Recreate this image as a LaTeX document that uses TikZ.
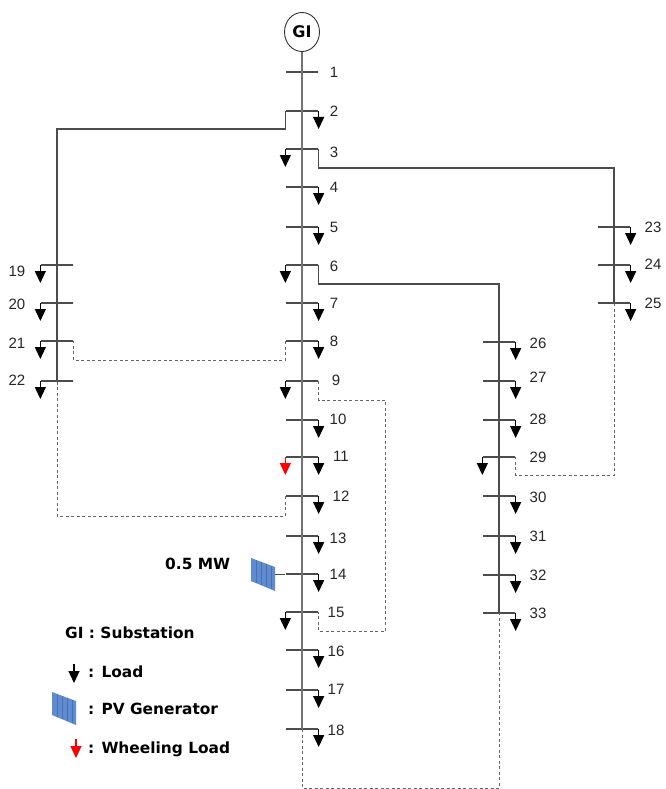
\documentclass[tikz,border=0pt]{standalone}
\usepackage{xcolor}
\usepackage{fontspec}
\usepackage{tikz}
\usetikzlibrary{shapes.geometric}
\usetikzlibrary{arrows.meta}
\setmainfont{Liberation Sans}
\newfontfamily\legendfont{DejaVu Sans}
\definecolor{panelblue}{HTML}{5F8BD0}
\definecolor{panelgrid}{HTML}{4C6FB0}

\begin{document}
\begin{tikzpicture}[x=1pt,y=1pt,node distance=38pt,
	bus node/.style={rectangle, draw=black!70, line width=1.3pt, inner sep=0pt, minimum width=32pt, minimum height=0pt},
	bus label/.style={font=\fontsize{15}{15}\selectfont, text=black!85, inner sep=0pt},
	legend text/.style={font=\legendfont\fontsize{15.4}{15.4}\selectfont\bfseries, inner sep=0pt, anchor=west},
	feeder/.style={draw=black!70, line width=1.3pt},
	trunk/.style={draw=black!55, line width=1.8pt},
	tie line/.style={draw=black!60, line width=0.9pt, dash pattern=on 3pt off 2.5pt},
	load/.style={draw=black, line width=1.3pt, -{Triangle[width=11pt,length=12pt]}},
	wheeling/.style={draw=red, line width=1.3pt, -{Triangle[width=11pt,length=12pt]}},
	pv panel/.pic={
		\fill[panelblue] (0,0) -- (24,-9) -- (24,-33) -- (0,-23) -- cycle;
		\draw[panelgrid, line width=0.5pt] (5,-1.9) -- (5,-25) (10,-3.8) -- (10,-27.2) (15,-5.6) -- (15,-29.2) (20,-7.5) -- (20,-31.3);
	}]
	\useasboundingbox (0,0) rectangle (665,-789);

	% Nodes
	\node [ellipse, draw=black!80, line width=0.9pt, minimum width=35pt, minimum height=39pt, inner sep=0pt, font=\legendfont\fontsize{16}{16}\selectfont\bfseries] (GI) at (302,-32) {GI};
	\node[bus node] (1) at (302,-72) {};
	\node[bus node] (2) [below of=1, yshift=-1pt] {};
	\node[bus node] (3) [below of=2] {};
	\node[bus node] (4) [below of=3] {};
	\node[bus node] (5) [below of=4, yshift=-2pt] {};
	\node[bus node] (6) [below of=5] {};
	\node[bus node] (7) [below of=6] {};
	\node[bus node] (8) [below of=7] {};
	\node[bus node] (9) [below of=8, yshift=-2pt] {};
	\node[bus node] (10) [below of=9, yshift=-1pt] {};
	\node[bus node] (11) [below of=10, yshift=1pt] {};
	\node[bus node] (12) [below of=11, yshift=-1pt] {};
	\node[bus node] (13) [below of=12, yshift=-2pt] {};
	\node[bus node] (14) [below of=13] {};
	\node[bus node] (15) [below of=14] {};
	\node[bus node] (16) [below of=15] {};
	\node[bus node] (17) [below of=16, yshift=-2pt] {};
	\node[bus node] (18) [below of=17, yshift=-1pt] {};

	\node[bus node] (19) at (57,-265) {};
	\node[bus node] (20) [below of=19] {};
	\node[bus node] (21) [below of=20] {};
	\node[bus node] (22) [below of=21, yshift=-2pt] {};

	\node[bus node] (23) at (614,-227) {};
	\node[bus node] (24) [below of=23] {};
	\node[bus node] (25) [below of=24] {};

	\node[bus node] (26) at (499,-342) {};
	\node[bus node] (27) [below of=26, yshift=-1pt] {};
	\node[bus node] (28) [below of=27, yshift=-1pt] {};
	\node[bus node] (29) [below of=28, yshift=1pt] {};
	\node[bus node] (30) [below of=29, yshift=-1pt] {};
	\node[bus node] (31) [below of=30, yshift=-2pt] {};
	\node[bus node] (32) [below of=31, yshift=-1pt] {};
	\node[bus node] (33) [below of=32] {};

	% Bus numbers
	\node[bus label] (n1) at (334,-72) {1};
	\node[bus label] (n2) at (334,-111) {2};
	\node[bus label] (n3) at (334,-152) {3};
	\node[bus label] (n4) at (334,-187) {4};
	\node[bus label] (n5) at (334,-227) {5};
	\node[bus label] (n6) at (334,-266) {6};
	\node[bus label] (n7) at (334,-303) {7};
	\node[bus label] (n8) at (334,-341) {8};
	\node[bus label] (n9) at (336,-380) {9};
	\node[bus label] (n10) at (338,-419) {10};
	\node[bus label] (n11) at (341,-456) {11};
	\node[bus label] (n12) at (341,-496) {12};
	\node[bus label] (n13) at (338,-538) {13};
	\node[bus label] (n14) at (338,-574) {14};
	\node[bus label] (n15) at (336,-612) {15};
	\node[bus label] (n16) at (336,-651) {16};
	\node[bus label] (n17) at (336,-689) {17};
	\node[bus label] (n18) at (336,-730) {18};
	\node[bus label] (n19) at (17,-271) {19};
	\node[bus label] (n20) at (17,-304) {20};
	\node[bus label] (n21) at (17,-343) {21};
	\node[bus label] (n22) at (17,-380) {22};
	\node[bus label] (n23) at (653,-227) {23};
	\node[bus label] (n24) at (653,-264) {24};
	\node[bus label] (n25) at (653,-303) {25};
	\node[bus label] (n26) at (538,-343) {26};
	\node[bus label] (n27) at (538,-377) {27};
	\node[bus label] (n28) at (538,-419) {28};
	\node[bus label] (n29) at (538,-457) {29};
	\node[bus label] (n30) at (538,-497) {30};
	\node[bus label] (n31) at (538,-536) {31};
	\node[bus label] (n32) at (538,-575) {32};
	\node[bus label] (n33) at (538,-613) {33};

	% Feeders
	\draw[trunk] (GI) -- (18.center);
	\draw[feeder] (19.center) -- (22.center);
	\draw[feeder] (23.center) -- (25.center);
	\draw[feeder] (26.center) -- (33.center);
	\draw[feeder] (2.west) -- ++(0,-18) -| (19.center);
	\draw[feeder] (3.east) -- ++(0,-19) -| (23.center);
	\draw[feeder] (6.east) -- ++(0,-19) -| (26.center);

	% Ties
	\draw[tie line] (8.west) -- ++(0,-19) -| (21.east);
	\draw[tie line] (9.east) -- ++(0,-19) -- ++(67,0) |- ([yshift=-19pt]15.east) -- (15.east);
	\draw[tie line] (12.west) -- ++(0,-20) -| (22.center);
	\draw[tie line] (25.center) |- ([yshift=-18pt]29.east) -- (29.east);
	\draw[tie line] (18.center) |- (499,-788) -- (33.center);

	% Loads
	\coordinate (r2) at ([yshift=-18pt]2.east);
	\coordinate (l3) at ([yshift=-18pt]3.west);
	\coordinate (r4) at ([yshift=-18pt]4.east);
	\coordinate (r5) at ([yshift=-18pt]5.east);
	\coordinate (l6) at ([yshift=-18pt]6.west);
	\coordinate (r7) at ([yshift=-18pt]7.east);
	\coordinate (r8) at ([yshift=-18pt]8.east);
	\coordinate (l9) at ([yshift=-18pt]9.west);
	\coordinate (r10) at ([yshift=-18pt]10.east);
	\coordinate (r11) at ([yshift=-18pt]11.east);
	\coordinate (w11) at ([yshift=-18pt]11.west);
	\coordinate (r12) at ([yshift=-18pt]12.east);
	\coordinate (r13) at ([yshift=-18pt]13.east);
	\coordinate (r14) at ([yshift=-18pt]14.east);
	\coordinate (l15) at ([yshift=-18pt]15.west);
	\coordinate (r16) at ([yshift=-18pt]16.east);
	\coordinate (r17) at ([yshift=-18pt]17.east);
	\coordinate (r18) at ([yshift=-18pt]18.east);
	\coordinate (l19) at ([yshift=-18pt]19.west);
	\coordinate (l20) at ([yshift=-18pt]20.west);
	\coordinate (l21) at ([yshift=-18pt]21.west);
	\coordinate (l22) at ([yshift=-18pt]22.west);
	\coordinate (r23) at ([yshift=-18pt]23.east);
	\coordinate (r24) at ([yshift=-18pt]24.east);
	\coordinate (r25) at ([yshift=-18pt]25.east);
	\coordinate (r26) at ([yshift=-18pt]26.east);
	\coordinate (r27) at ([yshift=-18pt]27.east);
	\coordinate (r28) at ([yshift=-18pt]28.east);
	\coordinate (l29) at ([yshift=-18pt]29.west);
	\coordinate (r30) at ([yshift=-18pt]30.east);
	\coordinate (r31) at ([yshift=-18pt]31.east);
	\coordinate (r32) at ([yshift=-18pt]32.east);
	\coordinate (r33) at ([yshift=-18pt]33.east);

	\path[every edge/.style={load, draw}]
	(2.east) edge (r2)
	(3.west) edge (l3)
	(4.east) edge (r4)
	(5.east) edge (r5)
	(6.west) edge (l6)
	(7.east) edge (r7)
	(8.east) edge (r8)
	(9.west) edge (l9)
	(10.east) edge (r10)
	(11.east) edge (r11)
	(12.east) edge (r12)
	(13.east) edge (r13)
	(14.east) edge (r14)
	(15.west) edge (l15)
	(16.east) edge (r16)
	(17.east) edge (r17)
	(18.east) edge (r18)
	(19.west) edge (l19)
	(20.west) edge (l20)
	(21.west) edge (l21)
	(22.west) edge (l22)
	(23.east) edge (r23)
	(24.east) edge (r24)
	(25.east) edge (r25)
	(26.east) edge (r26)
	(27.east) edge (r27)
	(28.east) edge (r28)
	(29.west) edge (l29)
	(30.east) edge (r30)
	(31.east) edge (r31)
	(32.east) edge (r32)
	(33.east) edge (r33);
	\draw[wheeling] (11.west) -- (w11);

	% PV generator
	\pic at (251,-558) {pv panel};
	\coordinate (pv) at (275,-574);
	\draw[feeder, line width=1pt] (pv) -- (14.west);
	\node[legend text] (mw) at (165,-564) {0.5 MW};

	% Legend
	\node[legend text] (sub) at (65,-633) {GI : Substation};
	\coordinate (k1) at (74,-664);
	\coordinate (k2) at (74,-683);
	\draw[load] (k1) -- (k2);
	\node[legend text] (lo) at (88,-672) {: Load};
	\pic at (52,-692) {pv panel};
	\node[legend text] (gen) at (88,-709) {: PV Generator};
	\coordinate (k3) at (76,-739);
	\coordinate (k4) at (76,-758);
	\draw[wheeling] (k3) -- (k4);
	\node[legend text] (wh) at (88,-749) {: Wheeling Load};
\end{tikzpicture}
\end{document}
